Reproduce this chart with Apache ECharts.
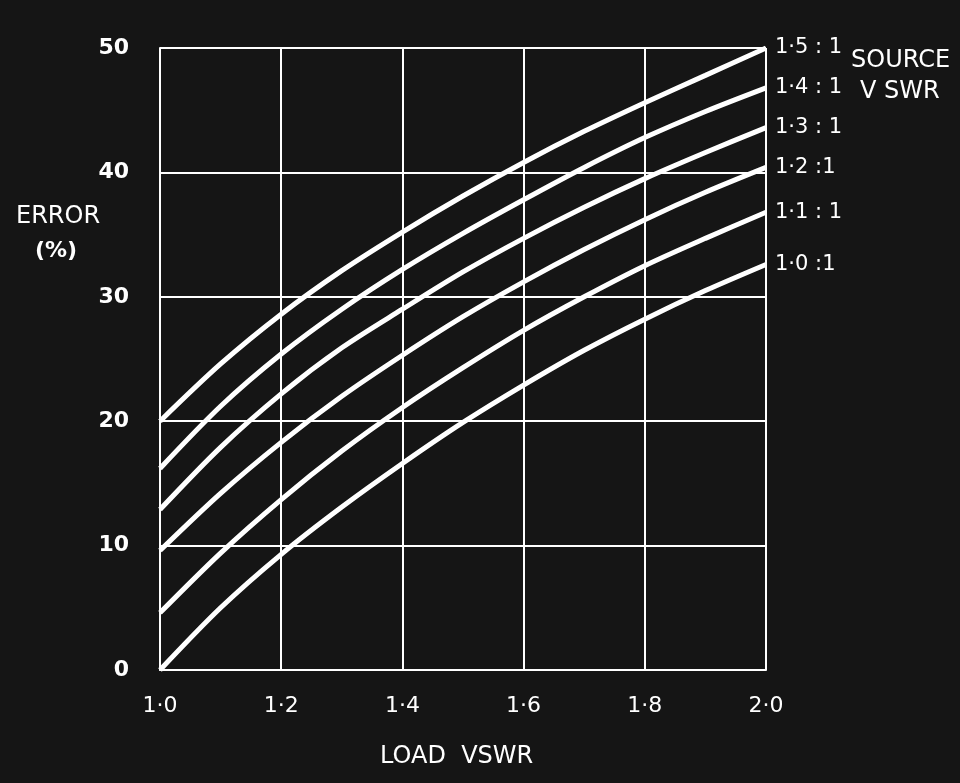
<!DOCTYPE html>
<html>
<head>
<meta charset="utf-8">
<script src="https://cdn.jsdelivr.net/npm/echarts@6/dist/echarts.min.js"></script>
<style>
html,body{margin:0;padding:0;background:#151515;}
#c{width:960px;height:783px;}
</style>
</head>
<body>
<div id="c"></div>
<script>
const loadVswr = [1.0, 1.1, 1.2, 1.3, 1.4, 1.5, 1.6, 1.7, 1.8, 1.9, 2.0];
const src15 = [20.0, 24.6, 28.6, 32.1, 35.2, 38.1, 40.8, 43.3, 45.6, 47.8, 50.0];
const src14 = [16.2, 21.2, 25.4, 29.0, 32.2, 35.1, 37.8, 40.4, 42.8, 44.9, 46.8];
const src13 = [12.9, 17.9, 22.2, 25.9, 29.0, 32.0, 34.7, 37.2, 39.5, 41.6, 43.6];
const src12 = [9.6, 14.2, 18.3, 22.0, 25.3, 28.4, 31.2, 33.8, 36.2, 38.4, 40.4];
const src11 = [4.6, 9.4, 13.7, 17.6, 21.1, 24.3, 27.3, 30.0, 32.5, 34.7, 36.8];
const src10 = [0.0, 5.0, 9.3, 13.1, 16.6, 19.9, 22.9, 25.7, 28.2, 30.5, 32.6];
const seriesNames = ['1·5 : 1', '1·4 : 1', '1·3 : 1', '1·2 :1', '1·1 : 1', '1·0 :1'];
const seriesValues = [src15, src14, src13, src12, src11, src10];
const yTicks = [0, 10, 20, 30, 40, 50];
const xTicks = [1.0, 1.2, 1.4, 1.6, 1.8, 2.0];

const FONT = 'DejaVu Sans';
const chart = echarts.init(document.getElementById('c'), null, {renderer: 'canvas'});
const series = seriesValues.map((vals, i) => ({
  name: seriesNames[i],
  type: 'line',
  smooth: 0.3,
  symbol: 'none',
  data: vals.map((v, j) => [loadVswr[j], v]),
  lineStyle: {color: '#ffffff', width: 5},
  endLabel: {
    show: true,
    formatter: '{a}',
    color: '#ffffff',
    fontFamily: FONT,
    fontSize: 21,
    distance: 9
  },
  emphasis: {disabled: true},
  animation: false
}));

chart.setOption({
  backgroundColor: '#151515',
  animation: false,
  grid: {left: 160, right: 194, top: 48, bottom: 113, containLabel: false},
  xAxis: {
    type: 'value', min: 1.0, max: 2.0, interval: 0.2,
    axisLine: {show: true, lineStyle: {color: '#ffffff', width: 2}},
    axisTick: {show: false},
    splitLine: {show: true, lineStyle: {color: '#ffffff', width: 2}},
    axisLabel: {
      color: '#ffffff', fontFamily: FONT, fontSize: 22, margin: 25,
      formatter: v => { const t = xTicks.find(x => Math.abs(x - v) < 1e-6); return t === undefined ? '' : t.toFixed(1).replace('.', '·'); }
    }
  },
  yAxis: {
    type: 'value', min: 0, max: 50, interval: 10,
    axisLine: {show: true, lineStyle: {color: '#ffffff', width: 2}},
    axisTick: {show: false},
    splitLine: {show: true, lineStyle: {color: '#ffffff', width: 2}},
    axisLabel: {
      color: '#ffffff', fontFamily: FONT, fontSize: 22, fontWeight: 'bold', margin: 31,
      formatter: v => yTicks.includes(v) ? String(v) : ''
    }
  },
  graphic: [
    {type: 'text', left: 16, top: 205, style: {text: 'ERROR', fill: '#ffffff', font: '24px "DejaVu Sans"'}},
    {type: 'text', left: 35, top: 240, style: {text: '(%)', fill: '#ffffff', font: 'bold 22px "DejaVu Sans"'}},
    {type: 'text', left: 851, top: 49, style: {text: 'SOURCE', fill: '#ffffff', font: '24px "DejaVu Sans"'}},
    {type: 'text', left: 860, top: 80, style: {text: 'V SWR', fill: '#ffffff', font: '24px "DejaVu Sans"'}},
    {type: 'text', left: 380, top: 745, style: {text: 'LOAD  VSWR', fill: '#ffffff', font: '24px "DejaVu Sans"'}}
  ],
  series: series
});
</script>
</body>
</html>
